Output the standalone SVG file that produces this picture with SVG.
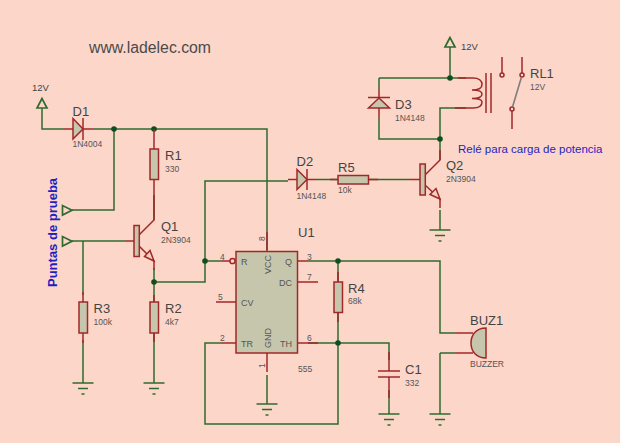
<svg xmlns="http://www.w3.org/2000/svg" width="620" height="443" viewBox="0 0 620 443">
<style>
text{font-family:"Liberation Sans",Arial,sans-serif;fill:#444}
.n{font-size:13px}
.v{font-size:8.500px;fill:#555}
.p{font-size:9px;fill:#555}
.i{font-size:9.500px}
.w{fill:none;stroke:#2f6b2f;stroke-width:1.500}
.l{fill:none;stroke:#a02828;stroke-width:1.500}
.o{fill:#c6c6ac;stroke:#a02828;stroke-width:1.500}
.a{fill:#ecd2bd;stroke:#a02828;stroke-width:1.500}
.t{fill:none;stroke:#2f6b2f;stroke-width:1.700}
.g{fill:#0f4f1f;stroke:none}
</style>
<defs>
<g id="gnd" class="w"><path d="M-10.500 0H10.500M-5 5.500H5M-1.500 11H1.500"/></g>
</defs>
<rect width="620" height="443" fill="#fcd6c9"/>

<g id="connectors">
<path class="w" d="M42 108V129H64M93 129H267V232"/>
<path class="w" d="M114 129V210H72"/>
<path class="w" d="M72 241H125"/>
<path class="w" d="M83 241V295M83 340V383"/>
<path class="w" d="M154 195V220"/>
<path class="w" d="M154 268V302M154 333V383"/>
<path class="w" d="M154 282H205V181H288"/>
<path class="w" d="M205 261H222"/>
<path class="w" d="M316 179.500H338M369 179.500H410"/>
<path class="w" d="M450 47V78M379 78H466M379 78V90M379 118V139H440M466 108H440V160"/>
<path class="w" d="M440 210V230"/>
<path class="w" d="M267 250V232M267 375V404"/>
<path class="w" d="M308 261H440V333H455M440 353H455M440 353V414"/>
<path class="w" d="M338 261V282M338 312V424H205V343H222"/>
<path class="w" d="M308 343H389V360M389 390V414"/>
<circle class="g" cx="114" cy="129" r="2.800"/>
<circle class="g" cx="154" cy="129" r="2.800"/>
<circle class="g" cx="154" cy="282" r="2.800"/>
<circle class="g" cx="205" cy="261" r="2.800"/>
<circle class="g" cx="450" cy="78" r="2.800"/>
<circle class="g" cx="440" cy="139" r="2.800"/>
<circle class="g" cx="338" cy="261" r="2.800"/>
<circle class="g" cx="338" cy="343" r="2.800"/>
</g>

<g id="title"><text x="89" y="52.500" font-size="15.800" style="fill:#4a4a4a">www.ladelec.com</text></g>

<g id="PWR1">
<path class="t" d="M42 98.500L37 108H47Z"/>
<text class="i" x="32" y="91">12V</text>
</g>

<g id="D1">
<path class="l" d="M64 129H73M83 129H93"/>
<path class="o" d="M73 118.500L83 129L73 139Z"/>
<path class="l" d="M83 118V140"/>
<text class="n" x="72.500" y="115.500">D1</text>
<text class="v" x="72.500" y="147">1N4004</text>
</g>

<g id="R1">
<path class="l" d="M154 129V149M154 180V195"/>
<rect class="o" x="150" y="149" width="8.500" height="30.500"/>
<text class="n" x="165" y="160">R1</text>
<text class="v" x="165" y="171.500">330</text>
</g>

<g id="TP1"><path class="t" d="M62.500 205.500V215L72 210.200Z"/></g>
<g id="TP2"><path class="t" d="M62.500 236.500V246L72 241.200Z"/></g>
<g id="probe-label"><text font-size="13" font-weight="bold" transform="translate(57 287) rotate(-90)" style="fill:#1f1fc0">Puntas de prueba</text></g>

<g id="Q1">
<path class="l" d="M125 241H134M154 195V220L139 235M139 246L154 261V270"/>
<rect class="o" x="134" y="225.500" width="5.300" height="31"/>
<path class="a" d="M154 261L144.500 256.500L150 250.500Z"/>
<text class="n" x="161" y="231">Q1</text>
<text class="v" x="161" y="243">2N3904</text>
</g>

<g id="R2">
<path class="l" d="M154 295V302M154 333V342"/>
<rect class="o" x="150" y="302" width="8.500" height="31"/>
<text class="n" x="165" y="313">R2</text>
<text class="v" x="165" y="325">4k7</text>
</g>
<use href="#gnd" x="154" y="383"/>

<g id="R3">
<path class="l" d="M83 292V302M83 333V343"/>
<rect class="o" x="79" y="302" width="8.500" height="31"/>
<text class="n" x="93.500" y="313">R3</text>
<text class="v" x="93.500" y="325">100k</text>
</g>
<use href="#gnd" x="83" y="383"/>

<g id="D2">
<path class="l" d="M288 179.500H297M307 179.500H316"/>
<path class="o" d="M297 169.500L307 179.500L297 189.500Z"/>
<path class="l" d="M307 169V190"/>
<text class="n" x="296.500" y="166">D2</text>
<text class="v" x="296.500" y="198.500">1N4148</text>
</g>

<g id="R5">
<path class="l" d="M330 179.500H338M369 179.500H378"/>
<rect class="o" x="338" y="175.500" width="30.500" height="8.500"/>
<text class="n" x="338" y="172">R5</text>
<text class="v" x="338" y="193">10k</text>
</g>

<g id="Q2">
<path class="l" d="M410 179.500H420M440 150V160L425 175M425 185L440 199V208"/>
<rect class="o" x="420" y="164" width="5.300" height="31"/>
<path class="a" d="M440 199L430 194.500L436 188.500Z"/>
<text class="n" x="446" y="170">Q2</text>
<text class="v" x="446" y="182">2N3904</text>
</g>
<use href="#gnd" x="440" y="230"/>

<g id="PWR2">
<path class="t" d="M450 37.500L445 47H455Z"/>
<text class="i" x="461" y="50">12V</text>
</g>

<g id="D3">
<path class="l" d="M379 90V97M379 108V118"/>
<path class="o" d="M379 98L368.500 108H389.500Z"/>
<path class="l" d="M368 97.500H390"/>
<text class="n" x="395" y="109">D3</text>
<text class="v" x="395" y="121">1N4148</text>
</g>

<g id="RL1">
<path class="l" d="M458 78H473C479 78 482 81 482 84.500C482 88 478 90 472 90C478 90 482 91 482 94C482 97 478 98.500 472 98.500C478 98.500 482 99.500 482 102C482 105.500 479 108 473 108H455"/>
<path class="l" d="M486 73V113M491 73V113"/>
<path class="l" d="M502 57V73M522 57V73M512 111V129"/>
<circle cx="502" cy="75" r="2" fill="none" stroke="#a02828" stroke-width="1.500"/>
<circle cx="522" cy="75" r="2" fill="none" stroke="#a02828" stroke-width="1.500"/>
<circle cx="512" cy="109" r="2" fill="none" stroke="#a02828" stroke-width="1.500"/>
<path d="M521.500 77L512.500 107" fill="none" stroke="#7d7d7d" stroke-width="1.600"/>
<text class="n" x="530" y="78">RL1</text>
<text class="v" x="530" y="90">12V</text>
</g>
<g id="relay-note"><text x="458" y="153" font-size="11.500" style="fill:#1f1fc0">Relé para carga de potencia</text></g>

<g id="U1">
<path class="l" d="M267 232V251M267 353V372M222 261H230M216 302H236M222 343H236M298 261H308M298 282H318M298 343H318"/>
<rect class="o" x="236" y="251.500" width="61.500" height="101.500"/>
<circle cx="232.500" cy="261" r="2.600" fill="#fcd6c9" stroke="#a02828" stroke-width="1.500"/>
<text class="n" x="298" y="237">U1</text>
<text class="p" x="241" y="265">R</text>
<text class="p" x="241" y="306">CV</text>
<text class="p" x="241" y="347">TR</text>
<text class="p" x="292" y="265" text-anchor="end">Q</text>
<text class="p" x="292" y="285.500" text-anchor="end">DC</text>
<text class="p" x="292" y="347" text-anchor="end">TH</text>
<text class="p" transform="translate(270.500 274) rotate(-90)">VCC</text>
<text class="p" transform="translate(270.500 348) rotate(-90)">GND</text>
<text class="v" x="220" y="259.500">4</text>
<text class="v" x="218" y="300">5</text>
<text class="v" x="220" y="340.500">2</text>
<text class="v" x="307" y="259.500">3</text>
<text class="v" x="307" y="280">7</text>
<text class="v" x="307" y="340.500">6</text>
<text class="v" transform="translate(265 241) rotate(-90)">8</text>
<text class="v" transform="translate(265 368) rotate(-90)">1</text>
<text class="v" x="298" y="372">555</text>
</g>
<use href="#gnd" x="267" y="404"/>

<g id="R4">
<path class="l" d="M338 272V282M338 312V322"/>
<rect class="o" x="334" y="282" width="8.500" height="30.500"/>
<text class="n" x="348" y="293">R4</text>
<text class="v" x="348" y="304">68k</text>
</g>

<g id="C1">
<path class="l" d="M389 352V371M389 377V398M378 371H400M378 377H400"/>
<text class="n" x="405" y="374">C1</text>
<text class="v" x="405" y="386">332</text>
</g>
<use href="#gnd" x="389" y="414"/>

<g id="BUZ1">
<path class="l" d="M455 333H473M455 353H473"/>
<path class="o" d="M486 328V358C476 358 471 351 471 343C471 335 476 328 486 328Z"/>
<text class="n" x="470" y="325">BUZ1</text>
<text class="v" x="470" y="367">BUZZER</text>
</g>
<use href="#gnd" x="440" y="414"/>
</svg>
